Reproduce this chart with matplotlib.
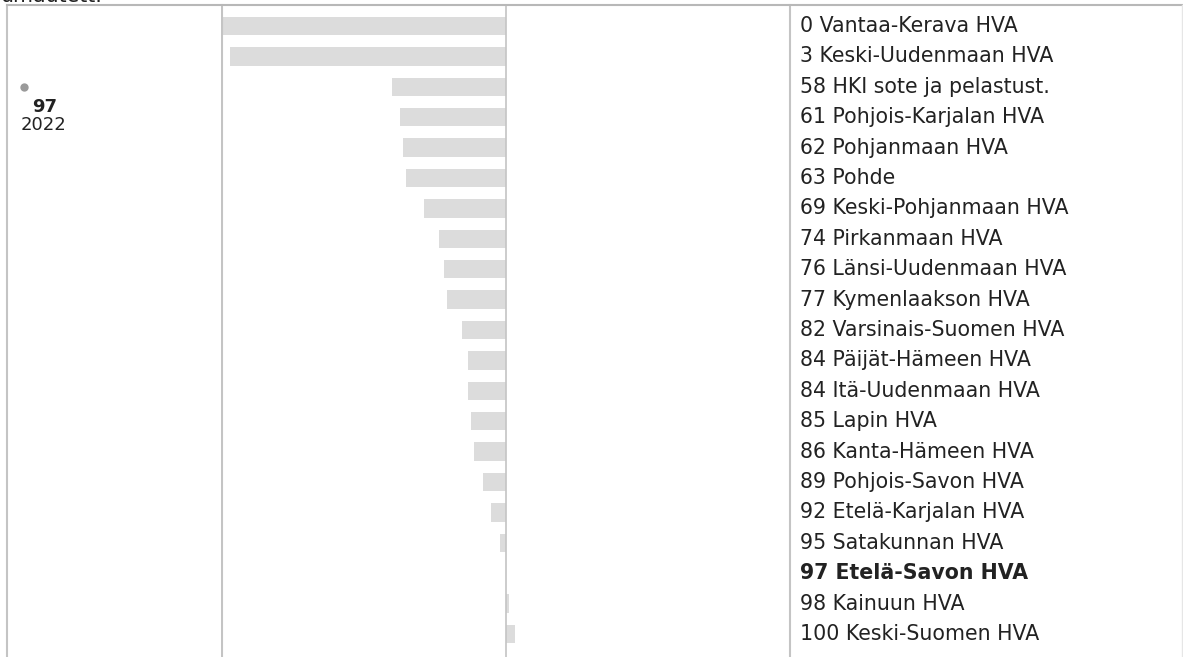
import numpy as np
import matplotlib
matplotlib.use("Agg")
import matplotlib.pyplot as plt
from matplotlib.lines import Line2D

# rank values and areas, top to bottom
values = [0, 3, 58, 61, 62, 63, 69, 74, 76, 77, 82, 84, 84, 85, 86, 89, 92, 95, 97, 98, 100]
areas = ["Vantaa-Kerava HVA", "Keski-Uudenmaan HVA", "HKI sote ja pelastust.",
         "Pohjois-Karjalan HVA", "Pohjanmaan HVA", "Pohde", "Keski-Pohjanmaan HVA",
         "Pirkanmaan HVA", "Länsi-Uudenmaan HVA", "Kymenlaakson HVA",
         "Varsinais-Suomen HVA", "Päijät-Hämeen HVA", "Itä-Uudenmaan HVA",
         "Lapin HVA", "Kanta-Hämeen HVA", "Pohjois-Savon HVA", "Etelä-Karjalan HVA",
         "Satakunnan HVA", "Etelä-Savon HVA", "Kainuun HVA", "Keski-Suomen HVA"]
selected = "Etelä-Savon HVA"
sel_value = 97
years = [2022]
sel_series = [97]

W, H = 1183, 657
fig = plt.figure(figsize=(W / 100, H / 100), dpi=100)
fig.patch.set_facecolor("white")

def px_axes(x0, y0, x1, y1):
    # pixel box (top-left origin) -> figure axes
    return fig.add_axes([x0 / W, 1 - y1 / H, (x1 - x0) / W, (y1 - y0) / H])

top, bottom = 5, 657
row0, step = 26, 30.4
n = len(values)
ylim = ((bottom - row0) / step, (top - row0) / step)
line_col = "#c4c4c4"
txt_col = "#222222"

# bars: deviation from the selected area
ax = px_axes(222, top, 790, bottom)
y = np.arange(n)
dev = np.array(values) - sel_value
ax.barh(y, dev, height=0.6, color="#dcdcdc", zorder=1)
ax.axvline(0, color=line_col, lw=1.2, zorder=2)
ax.set_xlim(-96.8, 96.8)
ax.set_ylim(*ylim)
ax.set_xticks([])
ax.set_yticks([])
for s in ["top", "bottom"]:
    ax.spines[s].set_visible(False)
for s in ["left", "right"]:
    ax.spines[s].set_color(line_col)
    ax.spines[s].set_linewidth(1.5)

# labels
axl = px_axes(790, top, W, bottom)
axl.set_xlim(0, 1)
axl.set_ylim(*ylim)
axl.axis("off")
for i, (v, a) in enumerate(zip(values, areas)):
    bold = a == selected
    axl.text(10 / (W - 790), i, f"{v} {a}", va="center", ha="left",
             fontsize=14.8, color=txt_col,
             fontweight="bold" if bold else "normal")

# left panel with the time point
axt = px_axes(7, top, 221, bottom)
axt.set_xlim(2021.5, 2027.8)
axt.set_ylim(0, 111)
axt.set_xticks([])
axt.set_yticks([])
for s in ["top", "bottom", "right"]:
    axt.spines[s].set_visible(False)
axt.spines["left"].set_color(line_col)
axt.spines["left"].set_linewidth(1.5)
axt.plot(years, sel_series, "o", color="#9a9a9a", ms=6, mec="none")
for yr, v in zip(years, sel_series):
    axt.annotate(str(v), (yr, v), xytext=(21, -20), textcoords="offset pixels",
                 ha="center", va="center", fontsize=13, fontweight="bold", color=txt_col)
    axt.annotate(str(yr), (yr, v), xytext=(20, -38), textcoords="offset pixels",
                 ha="center", va="center", fontsize=13, color=txt_col)

# frame top line and faint right edge
fig.add_artist(Line2D([7 / W, 1], [1 - 5 / H, 1 - 5 / H], transform=fig.transFigure,
                      color="#b8b8b8", lw=1.5))
fig.add_artist(Line2D([1 - 1.5 / W, 1 - 1.5 / W], [1 - 5 / H, 0],
                      transform=fig.transFigure, color="#e6e6e6", lw=1))

# cut-off caption above the frame
fig.text(0, 1 - 2 / H, "umautett.", ha="left", va="baseline", fontsize=14.8, color=txt_col)

fig.savefig("out.png", dpi=100)
